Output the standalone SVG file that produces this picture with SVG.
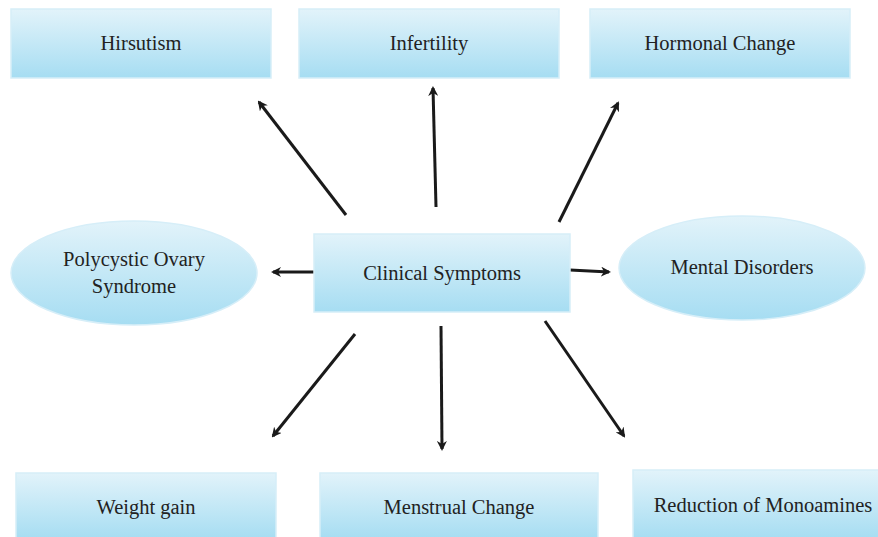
<svg xmlns="http://www.w3.org/2000/svg" width="878" height="537" viewBox="0 0 878 537">
<defs>
<linearGradient id="g" x1="0" y1="0" x2="0" y2="1">
<stop offset="0" stop-color="#e2f3fa"/>
<stop offset="1" stop-color="#a6ddf2"/>
</linearGradient>
<marker id="ah" markerWidth="10" markerHeight="10" refX="8" refY="5" orient="auto" markerUnits="userSpaceOnUse">
<path d="M0,0 L10,5 L0,10 L3,5 z" fill="#1a1a1a"/>
</marker>
<style>
.n{fill:url(#g);stroke:#d6eef8;stroke-width:1.5}
.t{font-family:"Liberation Serif","Times New Roman",serif;font-size:20.5px;fill:#222;text-anchor:middle}
.c{stroke:#1a1a1a;stroke-width:3;fill:none;marker-end:url(#ah)}
</style>
</defs>
<rect width="878" height="537" fill="#fff"/>
<g id="connectors">
<line class="c" x1="346" y1="215" x2="259" y2="102"/>
<line class="c" x1="436" y1="207" x2="433" y2="88"/>
<line class="c" x1="559" y1="222" x2="618" y2="103"/>
<line class="c" x1="314" y1="272" x2="273" y2="272"/>
<line class="c" x1="570" y1="270" x2="609" y2="272"/>
<line class="c" x1="355" y1="334" x2="273" y2="436"/>
<line class="c" x1="441" y1="326" x2="442" y2="449"/>
<line class="c" x1="545" y1="321" x2="624" y2="436"/>
</g>
<g id="hirsutism"><rect class="n" x="11" y="9" width="260" height="69"/><text class="t" x="141" y="50">Hirsutism</text></g>
<g id="infertility"><rect class="n" x="299" y="9" width="260" height="69"/><text class="t" x="429" y="50">Infertility</text></g>
<g id="hormonal"><rect class="n" x="590" y="9" width="260" height="69"/><text class="t" x="720" y="50">Hormonal Change</text></g>
<g id="clinical"><rect class="n" x="314" y="234" width="256" height="78"/><text class="t" x="442" y="280">Clinical Symptoms</text></g>
<g id="pcos"><ellipse class="n" cx="134" cy="273" rx="123" ry="52"/><text class="t" x="134" y="266">Polycystic Ovary</text><text class="t" x="134" y="293">Syndrome</text></g>
<g id="mental"><ellipse class="n" cx="742" cy="268" rx="123" ry="52"/><text class="t" x="742" y="274">Mental Disorders</text></g>
<g id="weight"><rect class="n" x="16" y="473" width="260" height="66"/><text class="t" x="146" y="514">Weight gain</text></g>
<g id="menstrual"><rect class="n" x="320" y="473" width="278" height="66"/><text class="t" x="459" y="514">Menstrual Change</text></g>
<g id="monoamines"><rect class="n" x="633" y="470" width="247" height="69"/><text class="t" x="763" y="512">Reduction of Monoamines</text></g>
</svg>
